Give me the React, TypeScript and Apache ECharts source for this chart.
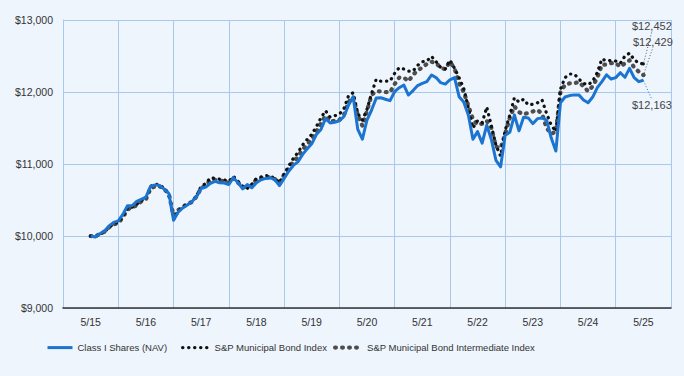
import React, { useEffect, useRef } from 'react';
import * as echarts from 'echarts';

// Tick labels (May of each year)
const yearLabels = ['5/15', '5/16', '5/17', '5/18', '5/19', '5/20', '5/21', '5/22', '5/23', '5/24', '5/25'];

const seriesNames = [
  'Class I Shares (NAV)',
  'S&P Municipal Bond Index',
  'S&P Municipal Bond Intermediate Index',
];

// Ending value labels
const endLabels = ['$12,163', '$12,452', '$12,429'];

// Monthly values, 5/15 .. 5/25 (121 points)
const classI = [
  10000, 9985, 10030, 10070, 10140, 10190, 10210, 10300, 10420, 10420, 10480, 10510,
  10540, 10690, 10710, 10700, 10650, 10590, 10220, 10330, 10390, 10430, 10480, 10546,
  10660, 10680, 10730, 10760, 10740, 10735, 10715, 10810, 10740, 10655, 10715, 10670,
  10740, 10780, 10800, 10810, 10780, 10700, 10800, 10900, 10980, 11030, 11130, 11210,
  11280, 11410, 11480, 11630, 11570, 11580, 11600, 11660, 11820, 11935, 11480, 11345,
  11611, 11750, 11915, 11920, 11900, 11880, 12004, 12060, 12097, 11958, 12020, 12090,
  12120, 12144, 12236, 12200, 12130, 12110, 12170, 12199, 11935, 11860, 11680, 11345,
  11450, 11290, 11540, 11340, 11050, 10960, 11400, 11440, 11680, 11460, 11650, 11640,
  11560, 11630, 11640, 11610, 11360, 11180, 11850, 11930, 11950, 11960, 11960, 11890,
  11850, 11930, 12060, 12144, 12240, 12180, 12200, 12268, 12204, 12329, 12200, 12144,
  12163,
];

const spMuni = [
  10000, 9990, 10020, 10060, 10120, 10170, 10190, 10270, 10390, 10400, 10440, 10490,
  10530, 10690, 10720, 10710, 10660, 10580, 10230, 10350, 10400, 10450, 10470, 10560,
  10690, 10730, 10810, 10800, 10790, 10780, 10760, 10830, 10760, 10690, 10660, 10720,
  10800, 10820, 10840, 10830, 10800, 10740, 10860, 10970, 11079, 11160, 11264, 11340,
  11410, 11520, 11640, 11740, 11650, 11670, 11690, 11770, 11950, 11990, 11700, 11610,
  11760, 11980, 12176, 12150, 12150, 12153, 12259, 12338, 12319, 12290, 12292, 12370,
  12420, 12431, 12495, 12421, 12340, 12319, 12444, 12330, 12200, 12051, 11780, 11500,
  11600, 11570, 11790, 11530, 11260, 11110, 11470, 11680, 11920, 11860, 11900, 11820,
  11830, 11850, 11890, 11700, 11540, 11450, 12040, 12200, 12250, 12250, 12180, 12120,
  12100, 12150, 12270, 12460, 12430, 12440, 12430, 12400, 12500, 12540, 12450, 12400,
  12390,
];

const spInter = [
  10000, 9995, 10030, 10060, 10120, 10160, 10180, 10260, 10370, 10390, 10430, 10480,
  10510, 10660, 10690, 10690, 10650, 10580, 10280, 10360, 10400, 10450, 10470, 10550,
  10670, 10700, 10780, 10780, 10770, 10760, 10740, 10800, 10740, 10680, 10680, 10700,
  10790, 10800, 10820, 10810, 10790, 10740, 10850, 10940, 11030, 11100, 11200, 11270,
  11350, 11450, 11565, 11671, 11588, 11600, 11611, 11681, 11860, 11930, 11680, 11530,
  11740, 11960, 12010, 12010, 12000, 11995, 12110, 12200, 12200, 12150, 12240, 12300,
  12340, 12390, 12420, 12400, 12340, 12315, 12420, 12330, 12120, 12000, 11810, 11620,
  11545, 11560, 11600, 11500, 11240, 11220, 11420, 11640, 11800, 11720, 11690, 11710,
  11730, 11750, 11700, 11500, 11420, 11450, 12000, 12100, 12120, 12120, 12140, 12080,
  12010, 12080, 12200, 12380, 12380, 12400, 12400, 12352, 12398, 12440, 12340, 12282,
  12236,
];

const LEAD = 6; // axis starts half a year before 5/15
const TRAIL = 6; // and ends half a year after 5/25

const FONT = "'Liberation Sans', Arial, sans-serif";
const GRID_COLOR = '#a9c8ee';

export default function App() {
  const ref = useRef<HTMLDivElement>(null);

  useEffect(() => {
    document.body.style.margin = '0';
    const chart = echarts.init(ref.current as HTMLDivElement, null, { renderer: 'svg' });

    const total = LEAD + classI.length + TRAIL;
    const categories = Array.from({ length: total }, (_, k) => 'm' + k);

    const makeData = (vals: number[], label: string, color: string, dot: number) => {
      const pad: any[] = Array(LEAD).fill('-');
      const body: any[] = vals.slice(0, -1);
      const last = {
        value: vals[vals.length - 1],
        symbol: 'circle',
        symbolSize: dot,
        label: {
          show: true,
          formatter: label,
          color: '#444',
          fontSize: 11,
          fontFamily: FONT,
        },
        labelLine: {
          show: true,
          lineStyle: { color, width: 1, type: [1, 2] },
        },
      };
      return [...pad, ...body, last];
    };

    const lineCommon = {
      type: 'line',
      symbol: 'none',
      showSymbol: true,
      silent: true,
      emphasis: { disabled: true },
      connectNulls: false,
    };

    const legendCommon = {
      top: 342,
      padding: 0,
      itemHeight: 14,
      textStyle: { color: '#333', fontSize: 9.5, fontFamily: FONT },
      itemStyle: { opacity: 0, borderWidth: 0 },
      selectedMode: false,
    };

    const option: any = {
      animation: false,
      backgroundColor: '#eef5fd',
      textStyle: { fontFamily: FONT },
      grid: { left: 63, right: 13, top: 20, bottom: 68, containLabel: false },
      xAxis: {
        type: 'category',
        data: categories,
        boundaryGap: false,
        axisLine: { show: true, lineStyle: { color: '#333', width: 1.5 } },
        axisTick: { show: false },
        axisLabel: {
          interval: (i: number) => i >= LEAD && (i - LEAD) % 12 === 0 && i - LEAD < classI.length,
          formatter: (_v: string, i: number) => yearLabels[(i - LEAD) / 12] ?? '',
          color: '#333',
          fontSize: 10.5,
          margin: 8,
        },
        splitLine: {
          show: true,
          interval: (i: number) => i % 12 === 0,
          lineStyle: { color: GRID_COLOR, width: 1 },
        },
      },
      yAxis: {
        type: 'value',
        min: 9000,
        max: 13000,
        interval: 1000,
        axisLine: { show: true, lineStyle: { color: GRID_COLOR, width: 1 } },
        axisTick: { show: false },
        axisLabel: {
          formatter: (v: number) => '$' + v.toLocaleString('en-US'),
          color: '#333',
          fontSize: 10.5,
          margin: 10,
        },
        splitLine: { show: true, lineStyle: { color: GRID_COLOR, width: 1 } },
      },
      legend: [
        { ...legendCommon, data: [seriesNames[0]], left: 46, itemWidth: 25, lineStyle: { width: 3 } },
        { ...legendCommon, data: [seriesNames[1]], left: 181, itemWidth: 27, lineStyle: { width: 3.2 } },
        { ...legendCommon, data: [seriesNames[2]], left: 333, itemWidth: 27, lineStyle: { width: 4.2 } },
      ],
      series: [
        {
          ...lineCommon,
          name: seriesNames[2],
          z: 2,
          data: makeData(spInter, endLabels[2], '#555', 4),
          lineStyle: { color: '#4d4d4d', width: 4.2, type: [0.8, 6.2], cap: 'round', join: 'round' },
          itemStyle: { color: '#4d4d4d' },
          labelLayout: { x: 633, y: 42, align: 'left', verticalAlign: 'middle' },
        },
        {
          ...lineCommon,
          name: seriesNames[1],
          z: 3,
          data: makeData(spMuni, endLabels[1], '#555', 3),
          lineStyle: { color: '#111', width: 3.2, type: [0.3, 5.7], cap: 'round', join: 'round' },
          itemStyle: { color: '#111' },
          labelLayout: { x: 632, y: 26, align: 'left', verticalAlign: 'middle' },
        },
        {
          ...lineCommon,
          name: seriesNames[0],
          z: 4,
          data: makeData(classI, endLabels[0], '#1b75d0', 1),
          lineStyle: { color: '#1b75d0', width: 3, join: 'round' },
          itemStyle: { color: '#1b75d0' },
          labelLayout: { x: 632, y: 105, align: 'left', verticalAlign: 'middle' },
        },
      ],
    };

    chart.setOption(option);
    return () => chart.dispose();
  }, []);

  return <div ref={ref} style={{ width: 684, height: 376 }} />;
}
